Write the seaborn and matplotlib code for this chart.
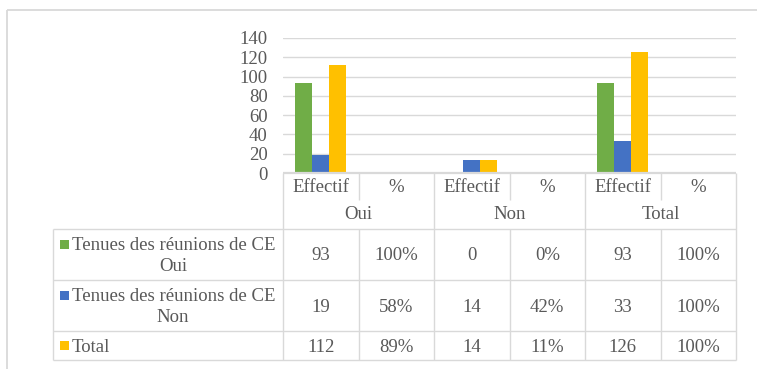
import textwrap
import pandas as pd
import matplotlib
matplotlib.use("Agg")
import matplotlib.pyplot as plt
import seaborn as sns
from matplotlib.patches import Rectangle

# --- données ---
groups = ["Oui", "Non", "Total"]
measures = ["Effectif", "%"]
series_labels = ["Tenues des réunions de CE Oui", "Tenues des réunions de CE Non", "Total"]
serie_oui = [93, 1.00, 0, 0.00, 93, 1.00]
serie_non = [19, 0.58, 14, 0.42, 33, 1.00]
serie_total = [112, 0.89, 14, 0.11, 126, 1.00]
colors = ["#70AD47", "#4472C4", "#FFC000"]

W, H = 758, 369
TXT = "#595959"
GRID = "#D9D9D9"
FONT = "Liberation Serif"
FS = 13.5

sns.set_style("white")
plt.rcParams["font.family"] = [FONT, "DejaVu Serif"]

columns = [f"{g} {m}" for g in groups for m in measures]
values = [serie_oui, serie_non, serie_total]
df = pd.DataFrame({
    "col": columns * 3,
    "serie": [s for s in series_labels for _ in columns],
    "val": serie_oui + serie_non + serie_total,
})

fig = plt.figure(figsize=(W / 100, H / 100), dpi=100)

# zone du graphique (pixels -> fraction)
x0, x1, ytop, ybot = 283, 736, 38, 173
ax = fig.add_axes([x0 / W, 1 - ybot / H, (x1 - x0) / W, (ybot - ytop) / H])
sns.barplot(data=df, x="col", y="val", hue="serie", hue_order=series_labels,
            order=columns, palette=colors, saturation=1, width=0.675,
            linewidth=0, legend=False, ax=ax)
ax.set_xlim(-0.5, len(columns) - 0.5)
ax.set_ylim(0, 140)
ax.set_yticks(range(0, 141, 20))
ax.set_xticks([])
ax.set_xlabel("")
ax.set_ylabel("")
ax.grid(axis="y", color=GRID, linewidth=1)
ax.set_axisbelow(True)
for sp in ax.spines.values():
    sp.set_visible(False)
ax.tick_params(axis="y", length=0, pad=11, labelcolor=TXT, labelsize=FS)
for lab in ax.get_yticklabels():
    lab.set_fontfamily(FONT)

# calque en pixels pour le tableau de données
ov = fig.add_axes([0, 0, 1, 1])
ov.set_xlim(0, W)
ov.set_ylim(H, 0)
ov.axis("off")
ov.patch.set_visible(False)

def hline(y, xa, xb, lw=1.0):
    ov.plot([xa, xb], [y, y], color=GRID, lw=lw, solid_capstyle="butt")

def vline(x, ya, yb, lw=1.0):
    ov.plot([x, x], [ya, yb], color=GRID, lw=lw, solid_capstyle="butt")

def txt(x, y, s, ha="center"):
    ov.text(x, y + 1.5, s, ha=ha, va="center", color=TXT, fontsize=FS, family=FONT)

# cadre extérieur
hline(10, 7, 757, lw=1.3)
vline(7, 10, H, lw=1.3)

ncol = len(columns)
cw = (x1 - x0) / ncol
col_x = [x0 + i * cw for i in range(ncol + 1)]
row_y = [229, 280, 331, 360]
tab_left = 53

# en-têtes
hline(ybot - 0.4, x0, x1, lw=1.6)
for i, x in enumerate(col_x):
    vline(x, ybot, 200 if i % 2 else row_y[-1])
for i, c in enumerate(columns):
    txt((col_x[i] + col_x[i + 1]) / 2, 186, measures[i % 2])
for g, name in enumerate(groups):
    txt((col_x[2 * g] + col_x[2 * g + 2]) / 2, 213, name)

# lignes de données
for y in row_y:
    hline(y, tab_left, x1)
for i, x in enumerate(col_x):
    if i % 2:
        vline(x, row_y[0], row_y[-1])
vline(tab_left, row_y[0], row_y[-1])

for r, (label, vals) in enumerate(zip(series_labels, values)):
    ya, yb = row_y[r], row_y[r + 1]
    lines = textwrap.wrap(label, 25)
    if len(lines) == 1:
        ys = [(ya + yb) / 2]
    else:
        ys = [ya + 15, ya + 36]
    ov.add_patch(Rectangle((60, ys[0] - 4.5), 9, 9, color=colors[r], lw=0))
    txt(72, ys[0], lines[0], ha="left")
    for ln, yy in zip(lines[1:], ys[1:]):
        txt(173, yy, ln)
    for i, v in enumerate(vals):
        s = f"{v:.0%}" if i % 2 else f"{v:.0f}"
        txt((col_x[i] + col_x[i + 1]) / 2, (ya + yb) / 2, s)

fig.savefig("out.png", dpi=100)
